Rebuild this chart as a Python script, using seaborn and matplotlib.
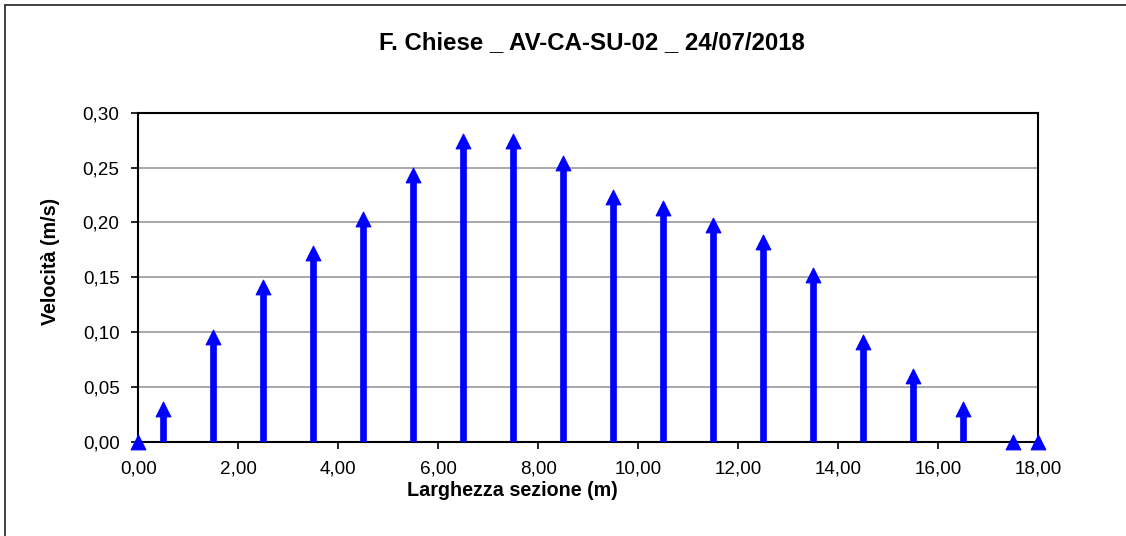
import matplotlib
matplotlib.use("Agg")
import matplotlib.pyplot as plt
from matplotlib.lines import Line2D
import seaborn as sns
import pandas as pd

# Cross-section verticals: distance from the left bank (m) and mean velocity (m/s)
larghezza = [0.0, 0.5, 1.5, 2.5, 3.5, 4.5, 5.5, 6.5, 7.5, 8.5, 9.5,
             10.5, 11.5, 12.5, 13.5, 14.5, 15.5, 16.5, 17.5, 18.0]
velocita = [0.0, 0.030, 0.096, 0.141, 0.172, 0.203, 0.243, 0.274, 0.274, 0.254, 0.223,
            0.213, 0.198, 0.182, 0.152, 0.091, 0.060, 0.030, 0.0, 0.0]

titolo = "F. Chiese _ AV-CA-SU-02 _ 24/07/2018"
etichetta_x = "Larghezza sezione (m)"
etichetta_y = "Velocità (m/s)"
x_ticks = [0, 2, 4, 6, 8, 10, 12, 14, 16, 18]
y_ticks = [0.0, 0.05, 0.10, 0.15, 0.20, 0.25, 0.30]

df = pd.DataFrame({"x": larghezza, "v": velocita})

sns.set_style("white")
plt.rcParams["font.family"] = ["Liberation Sans", "DejaVu Sans"]

W, H = 1126, 536
fig = plt.figure(figsize=(W / 100, H / 100), dpi=100)
ax = fig.add_axes([138.3 / W, 1 - 442 / H, 900 / W, (442 - 112.7) / H])

blu = "#0000FF"
# stems from the bed to each measured velocity
ax.vlines(df["x"], 0, df["v"], color=blu, linewidth=4.8, zorder=3)
sns.scatterplot(data=df, x="x", y="v", marker="^", s=112, color=blu,
                edgecolor=blu, linewidth=0.8, ax=ax, zorder=4, clip_on=False)

ax.set_xlim(0, 18)
ax.set_ylim(0, 0.30)
ax.set_xticks(x_ticks)
ax.set_yticks(y_ticks)
ax.set_xticklabels([f"{t:.2f}".replace(".", ",") for t in x_ticks])
ax.set_yticklabels([f"{t:.2f}".replace(".", ",") for t in y_ticks])
ax.set_xlabel("")
ax.set_ylabel("")

ax.yaxis.grid(True, color="#999999", linewidth=1.2)
ax.xaxis.grid(False)
ax.set_axisbelow(True)
for s in ax.spines.values():
    s.set_visible(True)
    s.set_color("black")
    s.set_linewidth(1.5)

ax.tick_params(axis="both", which="major", direction="out", length=5, width=1.2,
               color="black", labelsize=13.6, labelcolor="black")
ax.tick_params(axis="x", pad=8)
ax.tick_params(axis="y", pad=8.5)
ax.xaxis.set_ticks_position("bottom")
ax.yaxis.set_ticks_position("left")

fig.text(592 / W, 1 - 43 / H, titolo, ha="center", va="center",
         fontsize=17.3, fontweight="bold", color="black")
fig.text(512 / W, 1 - 490 / H, etichetta_x, ha="center", va="center",
         fontsize=14.2, fontweight="bold", color="black")
fig.text(51 / W, 1 - 261 / H, etichetta_y, ha="center", va="center", rotation=90,
         fontsize=14.2, fontweight="bold", color="black")

# chart frame: top and left edges
fig.add_artist(Line2D([5 / W, 1.0], [1 - 5 / H, 1 - 5 / H], transform=fig.transFigure,
                      color="#333333", linewidth=1.3))
fig.add_artist(Line2D([5 / W, 5 / W], [0.0, 1 - 5 / H], transform=fig.transFigure,
                      color="#333333", linewidth=1.3))

fig.savefig("out.png", dpi=100, facecolor="white")
